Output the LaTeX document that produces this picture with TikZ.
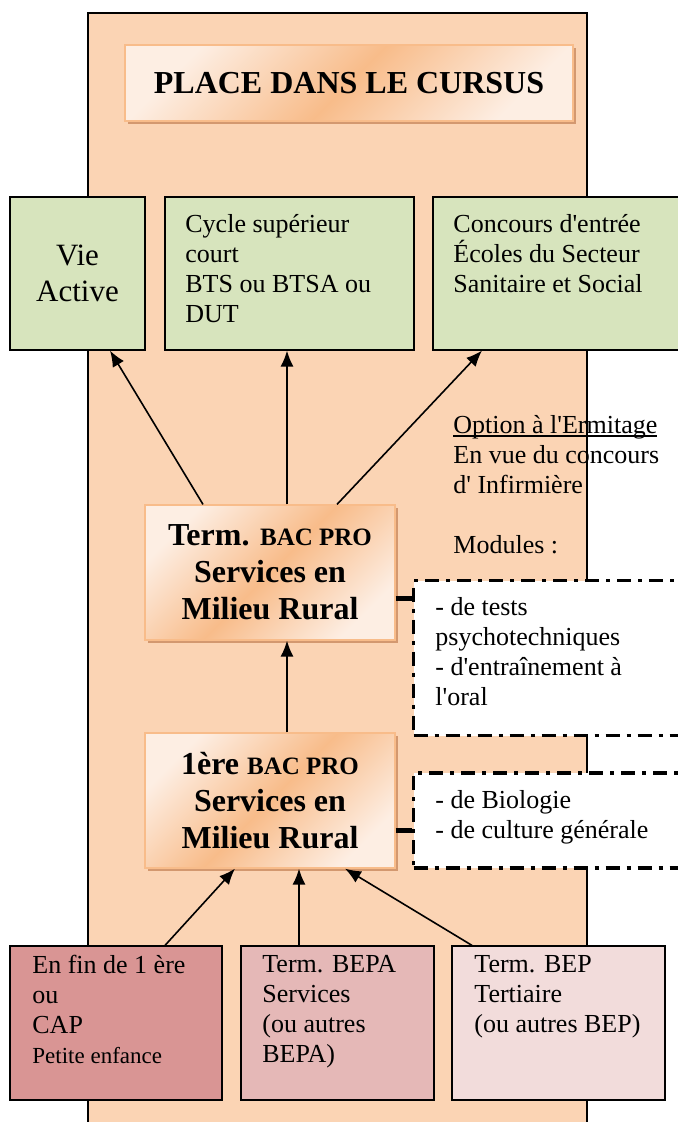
\documentclass[tikz,border=0pt]{standalone}
\usepackage{fontspec}
\setmainfont{Liberation Serif}[Ligatures=TeXOff]
\usetikzlibrary{shadows,arrows.meta}

\definecolor{peach}{HTML}{FBD4B4}
\definecolor{paleorange}{HTML}{FDEEE3}
\definecolor{deeporange}{HTML}{F8BC8A}
\definecolor{shadowbrown}{HTML}{C98A5E}
\definecolor{sage}{HTML}{D7E4BD}
\definecolor{roseA}{HTML}{D99594}
\definecolor{roseB}{HTML}{E5B8B7}
\definecolor{roseC}{HTML}{F2DCDB}

\newcommand{\souligne}[1]{\setbox0\hbox{#1}\rlap{\rule[-1.6pt]{\wd0}{0.6pt}}#1}

\tikzset{
  normaltext/.style={font=\fontsize{13}{15}\selectfont},
  greenbox/.style={draw, fill=sage, line width=0.6pt, minimum height=76.5pt},
  pinkbox/.style={draw, line width=0.6pt, minimum height=77pt},
  boxtext/.style={normaltext, anchor=north west, align=left, inner sep=0pt},
  orangebox/.style={draw=deeporange, line width=0.6pt,
    top color=paleorange, bottom color=paleorange, middle color=deeporange,
    shading angle=45,
    drop shadow={shadow xshift=1.6pt, shadow yshift=-1.6pt, fill=shadowbrown, opacity=0.8}},
  bacbox/.style={orangebox, minimum width=125pt, minimum height=67.5pt,
    align=center, font=\fontsize{16}{18.5}\selectfont\bfseries},
  modbox/.style={draw, fill=white, line width=1.6pt,
    dash pattern=on 7pt off 3.5pt on 2pt off 3.5pt, minimum width=143.5pt},
  flow/.style={-{Latex[length=8pt,width=6.5pt]}, line width=0.8pt},
  stub/.style={line width=2.5pt}
}

\begin{document}
\begin{tikzpicture}[x=0.5pt, y=-0.5pt]
  \useasboundingbox (0,0) rectangle (677,1122);

  % fond
  \draw[fill=peach, line width=0.8pt] (88,13) rectangle (587,1140);

  % titre
  \node[orangebox, minimum width=224pt, minimum height=38pt,
        font=\fontsize{16}{18}\selectfont\bfseries] (title) at (349,83) {PLACE DANS LE CURSUS};

  % debouches
  \node[greenbox, minimum width=67.5pt] (vie) at (77.5,273.5) {};
  \node[align=center, font=\fontsize{15.5}{18}\selectfont] (vietext) at (vie.center) {Vie\\Active};
  \node[greenbox, minimum width=124.5pt] (cycle) at (289.5,273.5) {};
  \node[boxtext] (cycletext) at (185,214) {Cycle supérieur\\court\\BTS ou BTSA ou\\DUT};
  \node[greenbox, minimum width=133.5pt] (concours) at (566.5,273.5) {};
  \node[boxtext] (concourstext) at (453,214) {Concours d'entrée\\Écoles du Secteur\\Sanitaire et Social};

  % option
  \node[boxtext] (option) at (453,415) {\souligne{Option à l'Ermitage}\\En vue du concours\\d' Infirmière\\[15pt]Modules :};

  % bac pro
  \node[bacbox] (term) at (270,572.5) {Term. {\fontsize{12.5}{14}\selectfont BAC PRO}\\Services en\\Milieu Rural};
  \node[bacbox] (first) at (270,800.5) {1ère {\fontsize{12.5}{14}\selectfont BAC PRO}\\Services en\\Milieu Rural};

  % modules
  \node[modbox, minimum height=77.5pt] (tests) at (557,658) {};
  \node[boxtext] (teststext) at (435,597) {- de tests\\psychotechniques\\- d'entraînement à\\l'oral};
  \node[modbox, minimum height=47.5pt] (bio) at (557,820.5) {};
  \node[boxtext] (biotext) at (435,790) {- de Biologie\\- de culture générale};

  \coordinate (termstub) at ([yshift=-12.75pt]term.east);
  \coordinate (firststub) at ([yshift=-14.75pt]first.east);
  \draw[stub] (termstub) -- (termstub -| tests.west);
  \draw[stub] (firststub) -- (firststub -| bio.west);

  % origines
  \node[pinkbox, fill=roseA, minimum width=106pt] (cap) at (116,1023) {};
  \node[boxtext] (captext) at (32,955) {En fin de 1 ère\\ou\\CAP\\{\fontsize{11.5}{15}\selectfont Petite enfance}};
  \node[pinkbox, fill=roseB, minimum width=96.5pt] (bepa) at (337.5,1023) {};
  \node[boxtext] (bepatext) at (262,955) {Term. BEPA\\Services\\(ou autres\\BEPA)};
  \node[pinkbox, fill=roseC, minimum width=106.5pt] (bep) at (558.5,1023) {};
  \node[boxtext] (beptext) at (474,955) {Term. BEP\\Tertiaire\\(ou autres BEP)};

  % fleches
  \draw[flow] ([xshift=-33.5pt]term.north) -- ([xshift=16.25pt]vie.south);
  \draw[flow] ([xshift=8.5pt]term.north) -- ([xshift=-1.25pt]cycle.south);
  \draw[flow] ([xshift=33.5pt]term.north) -- ([xshift=-42.25pt]concours.south);
  \draw[flow] ([xshift=8.5pt]first.north) -- ([xshift=8.5pt]term.south);
  \draw[flow] ([xshift=24.5pt]cap.north) -- ([xshift=-17.5pt]first.south);
  \draw[flow] ([xshift=-19.25pt]bepa.north) -- ([xshift=14.5pt]first.south);
  \draw[flow] ([xshift=-43.25pt]bep.north) -- ([xshift=37.5pt]first.south);
\end{tikzpicture}
\end{document}
